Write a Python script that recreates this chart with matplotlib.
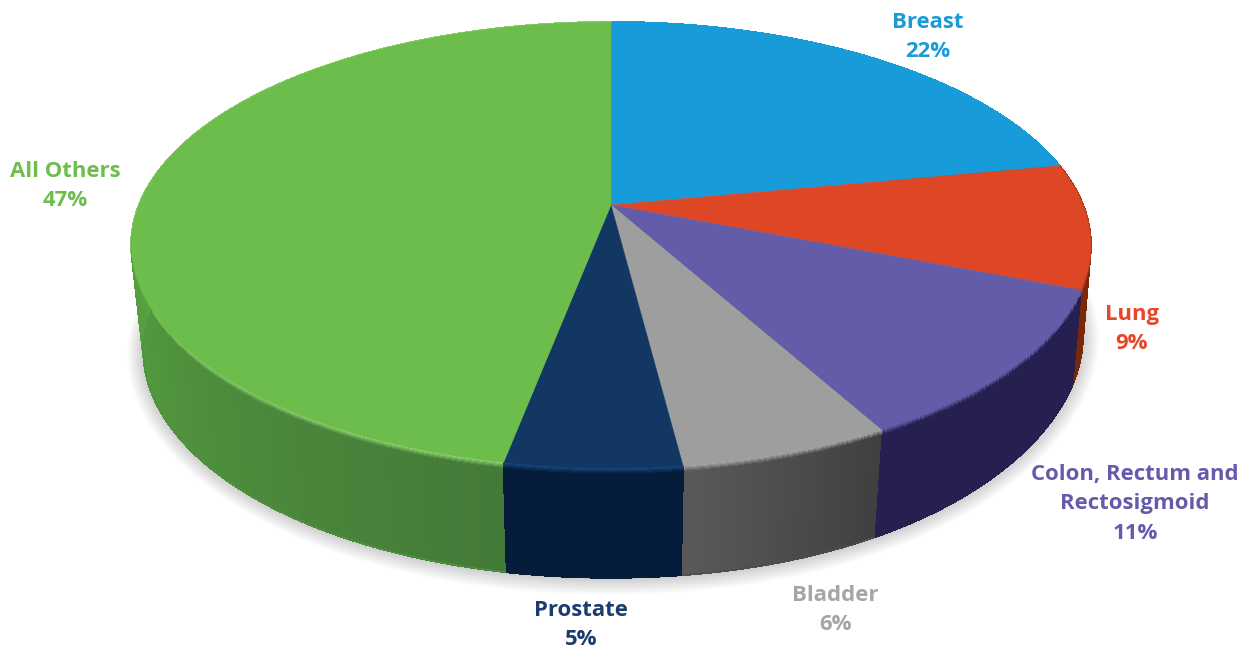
import numpy as np
import matplotlib
matplotlib.use('Agg')
import matplotlib.pyplot as plt
from matplotlib.collections import PolyCollection
from matplotlib.colors import to_rgb
from matplotlib.patches import Polygon

categories = ['Breast', 'Lung', 'Colon, Rectum and\nRectosigmoid', 'Bladder', 'Prostate', 'All Others']
percents = [22, 9, 11, 6, 5, 47]

top_colors = ['#189bd9', '#dd4725', '#635ca8', '#9e9e9e', '#133763', '#6cbd4b']
rim_colors = ['#189bd9', '#a83a1c', '#635ca8', '#a4a4a4', '#17457c', '#8ccf6c']
side_start = ['#0f6a96', '#7a2808', '#262050', '#404040', '#051d3a', '#437a38']
side_end = ['#0f6a96', '#7a2808', '#262050', '#5a5a5a', '#051d3a', '#5ba843']
text_colors = ['#1a9bd7', '#e8452a', '#645cab', '#a5a5a5', '#1a3c6e', '#6cbf4b']
label_pos = [(928, 37), (1132, 329), (1135, 504), (835, 610), (581, 625), (65, 186)]


def top_rim(t):
    # circle seen in perspective, t runs clockwise from 12 o'clock
    x, y = np.sin(t), np.cos(t)
    w = 1 + 0.1793 * y
    return 611 + 472 * x / w, 205 - 215.8 * y / w


def bottom_rim(t):
    x, y = np.sin(t), np.cos(t)
    w = 1 + 0.1793 * y
    right = np.clip(x, 0, 1) ** 3
    left = np.clip(-x, 0, 1) ** 3
    return (611 + 458 * x / w + 6.5 * right - 2 * left,
            323 - 209 * y / w - 25 * right - 10 * left)


def mix(a, b, f):
    return tuple(np.array(to_rgb(a)) * (1 - f) + np.array(to_rgb(b)) * f)


fig = plt.figure(figsize=(12.56, 6.5), dpi=100)
ax = fig.add_axes([0, 0, 1, 1])
ax.set_xlim(0, 1256)
ax.set_ylim(650, 0)
ax.axis('off')

# soft shadow under the disc
all_t = np.linspace(0, 2 * np.pi, 400)
bx, by = bottom_rim(all_t)
for grow in np.linspace(16, 1, 12):
    sx = 611 + (bx - 611) * (1 + grow / 465)
    sy = 323 + (by - 323) * (1 + grow / 255) + 1
    ax.add_patch(Polygon(np.column_stack([sx, sy]), fc='black', ec='none', alpha=0.016, zorder=1))

edges = 2 * np.pi * np.cumsum([0] + percents) / 100
levels = np.r_[np.linspace(0, 0.07, 8), 1.0]

# sides first, back to front, the tops cover what should be hidden
for i in [0, 1, 5, 2, 3, 4]:
    ts = np.linspace(edges[i], edges[i + 1], max(percents[i] * 6, 8))
    px, py = top_rim(ts)
    qx, qy = bottom_rim(ts)
    if i == 5:
        fade = np.clip((ts - edges[5]) / np.radians(90), 0, 1)
    else:
        fade = np.linspace(0, 1, len(ts))
    polys, colors = [], []
    for j in range(len(ts) - 1):
        side = mix(side_start[i], side_end[i], fade[j])
        for k in range(len(levels) - 1):
            v0, v1 = levels[k], levels[k + 1]
            polys.append([(px[j] + (qx[j] - px[j]) * v0, py[j] + (qy[j] - py[j]) * v0),
                          (px[j + 1] + (qx[j + 1] - px[j + 1]) * v0, py[j + 1] + (qy[j + 1] - py[j + 1]) * v0),
                          (px[j + 1] + (qx[j + 1] - px[j + 1]) * v1, py[j + 1] + (qy[j + 1] - py[j + 1]) * v1),
                          (px[j] + (qx[j] - px[j]) * v1, py[j] + (qy[j] - py[j]) * v1)])
            if k == len(levels) - 2:
                colors.append(side)
            elif k < 2:
                colors.append(rim_colors[i])
            else:
                colors.append(mix(rim_colors[i], side, (k - 1) / 5))
    # aliased fill so neighbouring quads leave no seams
    ax.add_collection(PolyCollection(polys, facecolors=colors, edgecolors='face', linewidths=0.8,
                                     antialiaseds=False, zorder=2))
    # smooth outline along the bottom edge
    ax.plot(qx, qy, color=mix(side_start[i], side_end[i], 0.5), lw=1.0, zorder=2)

# flat top slices
for i in range(len(percents)):
    ts = np.linspace(edges[i], edges[i + 1], 200)
    px, py = top_rim(ts)
    verts = np.column_stack([np.r_[611, px], np.r_[205, py]])
    ax.add_patch(Polygon(verts, fc=top_colors[i], ec=top_colors[i], lw=0.3, zorder=3))

for name, pct, pos, col in zip(categories, percents, label_pos, text_colors):
    ax.text(pos[0], pos[1], f'{name}\n{pct}%', color=col, ha='center', va='center', ma='center',
            fontsize=15.9, fontweight='bold', family='Open Sans', linespacing=1.55, zorder=4)

fig.savefig('out.png', dpi=100)
